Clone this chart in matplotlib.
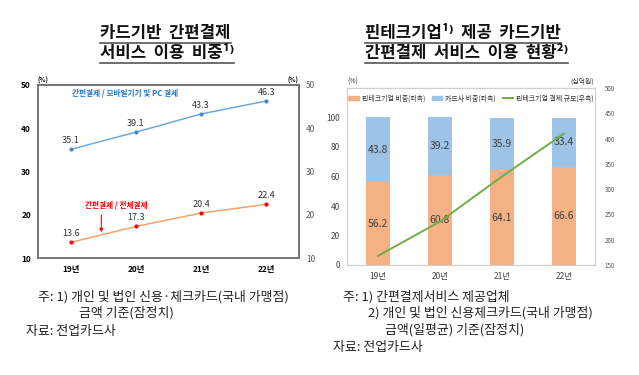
import matplotlib
matplotlib.use("Agg")
import matplotlib.pyplot as plt
from matplotlib.lines import Line2D
from matplotlib.patches import Patch
import numpy as np

plt.rcParams['font.family'] = ['Noto Sans CJK KR', 'DejaVu Sans']

# data
years = ['19년', '20년', '21년', '22년']
mobile_pc = [35.1, 39.1, 43.3, 46.3]      # 간편결제 / 모바일기기 및 PC 결제
total = [13.6, 17.3, 20.4, 22.4]          # 간편결제 / 전체결제
fintech_share = [56.2, 60.8, 64.1, 66.6]
card_share = [43.8, 39.2, 35.9, 33.4]
fintech_amount = [168, 236, 325, 410]     # 십억원

W, H = 639, 375
fig = plt.figure(figsize=(W / 100, H / 100), dpi=100)

def px(l, t, r, b):
    return [l / W, 1 - b / H, (r - l) / W, (b - t) / H]

# ---------- left chart ----------
ax1 = fig.add_axes(px(38, 85, 299, 258))
x = np.arange(len(years))
ax1.plot(x, mobile_pc, color='#6FA8DC', lw=1.1, marker='o', ms=2, mfc='#4A86C8', mec='#4A86C8')
ax1.plot(x, total, color='#F4A46B', lw=1.1, marker='o', ms=2, mfc='red', mec='red')
for xi, v in zip(x, mobile_pc):
    ax1.text(xi, v + 1.0, f'{v}', ha='center', va='bottom', fontsize=6.5, color='#333333')
for xi, v in zip(x, total):
    ax1.text(xi, v + 1.0, f'{v}', ha='center', va='bottom', fontsize=6.5, color='#333333')
ax1.set_xlim(-0.5, 3.5)
ax1.set_ylim(10, 50)
ax1.set_yticks([10, 20, 30, 40, 50])
ax1.set_xticks(x)
ax1.set_xticklabels(years, fontsize=6.5, fontweight='bold')
ax1.tick_params(axis='both', length=0, labelsize=6, pad=5)
for lab in ax1.get_yticklabels():
    lab.set_fontweight('bold')
ax1r = ax1.twinx()
ax1r.set_ylim(10, 50)
ax1r.set_yticks([10, 20, 30, 40, 50])
ax1r.tick_params(axis='y', length=0, labelsize=6, pad=5, labelcolor='#555555')
for a in (ax1, ax1r):
    for s in a.spines.values():
        s.set_color('#777777')
        s.set_linewidth(1.3)
ax1.text(0.015, 47.6, '간편결제 / 모바일기기 및 PC 결제', fontsize=5.5, color='#1F78D0', fontweight='bold')
ax1.text(0.22, 21.6, '간편결제 / 전체결제', fontsize=5.5, color='red', fontweight='bold')
ax1.annotate('', xy=(0.47, 15.3), xytext=(0.47, 20.6),
             arrowprops=dict(arrowstyle='-|>', color='red', lw=0.8, mutation_scale=5))
fig.text(43 / W, 1 - 80 / H, '(%)', fontsize=4.5, fontweight='bold', ha='center', va='center')
fig.text(293 / W, 1 - 80 / H, '(%)', fontsize=4.5, fontweight='bold', ha='center', va='center')

# ---------- right chart ----------
ax2 = fig.add_axes(px(347, 88, 595, 265))
ax2.bar(x, fintech_share, width=0.4, color='#F4B183')
ax2.bar(x, card_share, width=0.4, bottom=fintech_share, color='#9DC3E6')
for xi, a, b in zip(x, fintech_share, card_share):
    ax2.text(xi, a / 2, f'{a}', ha='center', va='center', fontsize=7.5, color='#404040')
    ax2.text(xi, a + b / 2, f'{b}', ha='center', va='center', fontsize=7.5, color='#404040')
ax2.set_xlim(-0.5, 3.5)
ax2.set_ylim(0, 120)
ax2.set_yticks([0, 20, 40, 60, 80, 100])
ax2.set_xticks(x)
ax2.set_xticklabels(years, fontsize=6, color='#444444')
ax2.tick_params(axis='both', length=0, labelsize=6, pad=5, labelcolor='#444444')
ax2r = ax2.twinx()
ax2r.plot(x, fintech_amount, color='#70AD47', lw=1.4)
ax2r.set_ylim(150, 500)
ax2r.set_yticks(range(150, 501, 50))
ax2r.tick_params(axis='y', length=0, labelsize=4.5, pad=7, labelcolor='#555555')
for a in (ax2, ax2r):
    for s in a.spines.values():
        s.set_color('#D0D0D0')
        s.set_linewidth(0.8)
handles = [Patch(color='#F4B183'), Patch(color='#9DC3E6'), Line2D([], [], color='#70AD47', lw=1.4)]
ax2.legend(handles, ['핀테크기업 비중(좌측)', '카드사 비중(좌측)', '핀테크기업 결제 규모(우측)'],
           loc='upper center', bbox_to_anchor=(0.5, 1.0), ncol=3, frameon=False,
           fontsize=5, handlelength=1.5, handleheight=0.6, columnspacing=1.0, handletextpad=0.4,
           labelcolor='#333333')
fig.text(353 / W, 1 - 82 / H, '(%)', fontsize=5, ha='center', va='center', color='#333333')
fig.text(582 / W, 1 - 82 / H, '(십억원)', fontsize=5, ha='center', va='center', color='#333333')

# ---------- titles ----------
titles = [
    (100, 33, '카드기반  간편결제'),
    (100, 53, '서비스  이용  비중¹⁾'),
    (365, 33, '핀테크기업¹⁾  제공  카드기반'),
    (365, 53, '간편결제  서비스  이용  현황²⁾'),
]
ttexts = []
for tx, ty, s in titles:
    ttexts.append(fig.text(tx / W, 1 - ty / H, s, fontsize=12, fontweight='bold',
                           ha='left', va='center', color='#111111'))

# ---------- notes ----------
note_kw = dict(fontsize=9.3, color='#222222', va='center', ha='left')
fig.text(38 / W, 1 - 297 / H, '주: 1) 개인 및 법인 신용·체크카드(국내 가맹점)', **note_kw)
fig.text(79 / W, 1 - 313 / H, '금액 기준(잠정치)', **note_kw)
fig.text(26 / W, 1 - 331 / H, '자료: 전업카드사', **note_kw)
fig.text(343 / W, 1 - 297 / H, '주: 1) 간편결제서비스 제공업체', **note_kw)
fig.text(368 / W, 1 - 313 / H, '2) 개인 및 법인 신용체크카드(국내 가맹점)', **note_kw)
fig.text(385 / W, 1 - 330 / H, '금액(일평균) 기준(잠정치)', **note_kw)
fig.text(333 / W, 1 - 347 / H, '자료: 전업카드사', **note_kw)

# underline titles
fig.canvas.draw()
r = fig.canvas.get_renderer()
for t in ttexts:
    bb = t.get_window_extent(r)
    y = (bb.y0 - 0.5) / H
    fig.add_artist(Line2D([bb.x0 / W, bb.x1 / W], [y, y], color='#555555', lw=1.2))

fig.savefig('out.png', dpi=100)
